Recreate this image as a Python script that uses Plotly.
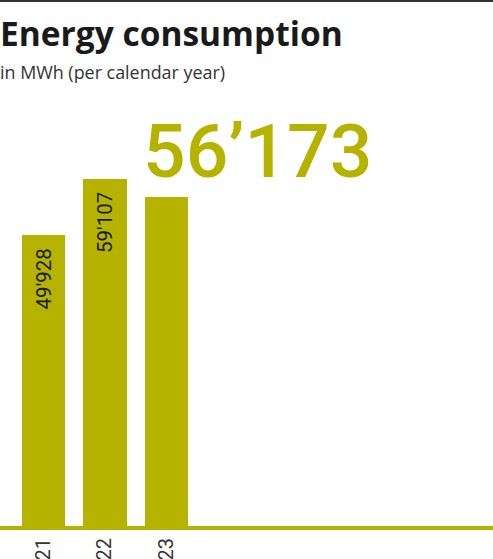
import plotly.graph_objects as go

# ---- data ----
years = ["21", "22", "23"]
consumption_mwh = [49928, 59107, 56173]
title_text = "Energy consumption"
subtitle_text = "in MWh (per calendar year)"

# ---- styles ----
OLIVE = "#b5b200"
DARK = "#1a1a1a"
W, H = 493, 559
M_T, M_B = 100, 33
BAR_W = 0.705
Y_MIN, Y_MAX = 3000, 71800

x_pos = list(range(len(years)))
PH = H - M_T - M_B


def py(px):
    """pixel row (from top of page) -> paper y"""
    return (H - M_B - px) / PH


fig = go.Figure()
fig.add_trace(go.Bar(
    x=x_pos, y=consumption_mwh, width=BAR_W,
    marker=dict(color=OLIVE, line=dict(width=0)),
    hoverinfo="skip",
))


def fmt(v, sep="'"):
    return f"{v:,}".replace(",", sep)


annotations = []
# small rotated labels inside bars (all but the latest year)
for xi, v in zip(x_pos[:-1], consumption_mwh[:-1]):
    annotations.append(dict(
        x=xi, y=v, xref="x", yref="y", text=fmt(v), showarrow=False,
        textangle=-90, xanchor="center", yanchor="top", yshift=-11,
        font=dict(family="Roboto", size=20.5, color=DARK),
    ))
# big highlight for the latest year
annotations.append(dict(
    x=x_pos[-1] - BAR_W / 2, y=consumption_mwh[-1], xref="x", yref="y",
    text=fmt(consumption_mwh[-1], "\u2019"), showarrow=False,
    xanchor="left", yanchor="bottom", yshift=0, xshift=-4,
    font=dict(family="Roboto", size=75, color=OLIVE, weight=500),
))
# title and subtitle
annotations.append(dict(
    x=0, y=py(8), xref="paper", yref="paper",
    text=f"<b>{title_text}</b>", showarrow=False, xanchor="left", yanchor="top",
    xshift=-2, font=dict(family="Open Sans", size=33.5, color=DARK),
))
annotations.append(dict(
    x=0, y=py(58), xref="paper", yref="paper",
    text=subtitle_text, showarrow=False, xanchor="left", yanchor="top",
    xshift=-2, font=dict(family="Open Sans", size=17.9, color="#333333"),
))

fig.update_layout(
    width=W, height=H,
    margin=dict(l=0, r=0, t=M_T, b=M_B, pad=0, autoexpand=False),
    paper_bgcolor="white", plot_bgcolor="white",
    showlegend=False,
    bargap=0,
    annotations=annotations,
    shapes=[dict(
        type="line", xref="paper", yref="paper", x0=0, x1=1,
        y0=py(1), y1=py(1),
        line=dict(color="#333333", width=2),
    )],
    xaxis=dict(
        range=[-0.708, 7.32], tickmode="array", tickvals=x_pos, ticktext=years,
        tickangle=-90, tickfont=dict(family="Roboto", size=20, color="#333333"),
        showgrid=False, zeroline=False, showline=True, linecolor=OLIVE,
        linewidth=4, ticks="", ticklabelstandoff=0, fixedrange=True,
        automargin=False,
    ),
    yaxis=dict(
        range=[Y_MIN, Y_MAX], visible=False, showgrid=False, zeroline=False,
        fixedrange=True, automargin=False,
    ),
)

fig.write_html(
    "out.html",
    config={"displayModeBar": False},
    post_script="document.body.style.margin='0';document.body.style.overflow='hidden';",
)
